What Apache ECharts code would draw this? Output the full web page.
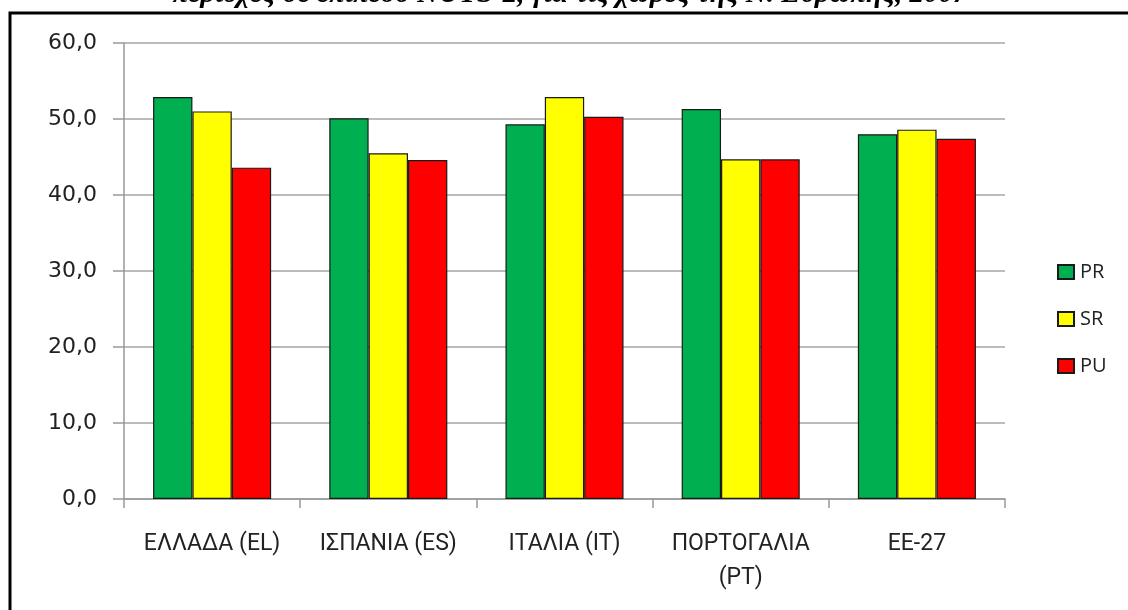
<!DOCTYPE html>
<html>
<head>
<meta charset="utf-8">
<script src="https://cdn.jsdelivr.net/npm/echarts@6/dist/echarts.min.js"></script>
<style>
  html, body { margin: 0; padding: 0; background: #fff; }
  #chart { width: 1128px; height: 610px; }
</style>
</head>
<body>
<div id="chart"></div>
<script>
// categories and series (% values)
const countries = ['ΕΛΛΑΔΑ (EL)', 'ΙΣΠΑΝΙΑ (ES)', 'ΙΤΑΛΙΑ (IT)', 'ΠΟΡΤΟΓΑΛΙΑ\n(PT)', 'ΕΕ-27']
const seriesNames = ['PR', 'SR', 'PU']
const prValues = [52.9, 50.1, 49.3, 51.3, 48.0]
const srValues = [51.0, 45.5, 52.9, 44.7, 48.6]
const puValues = [43.6, 44.6, 50.3, 44.7, 47.4]
const colors = ['#00b050', '#ffff00', '#ff0000']

const chart = echarts.init(document.getElementById('chart'))

const makeBar = (name, data, color) => ({
  name,
  type: 'bar',
  data,
  barGap: '0%',
  barCategoryGap: '33%',
  itemStyle: { color, borderColor: '#1a1a1a', borderWidth: 1.2 }
})

const option = {
  animation: false,
  backgroundColor: '#fff',
  graphic: [
    {
      type: 'rect',
      shape: { x: 10, y: 13, width: 1200, height: 700 },
      style: { fill: 'none', stroke: '#000', lineWidth: 3 },
      silent: true
    },
    {
      type: 'text',
      x: 570,
      y: 9,
      style: {
        text: 'περιοχές σε επίπεδο NUTS-2, για τις χώρες της Ν. Ευρώπης, 2007',
        font: 'italic bold 29px "Liberation Serif"',
        fill: '#000',
        textAlign: 'center',
        textVerticalAlign: 'bottom'
      },
      silent: true
    }
  ],
  legend: {
    data: seriesNames,
    orient: 'vertical',
    left: 1052,
    top: 257,
    itemWidth: 16,
    itemHeight: 14,
    itemGap: 27,
    icon: 'rect',
    textStyle: { fontFamily: 'Open Sans', fontSize: 20, color: '#222', padding: [0, 0, 0, 1] }
  },
  grid: {
    left: 124,
    top: 43,
    right: 123,
    bottom: 111,
    containLabel: false
  },
  xAxis: {
    type: 'category',
    data: countries,
    axisLine: { lineStyle: { color: '#999', width: 1.5 } },
    axisTick: { show: true, interval: 0, length: 9, lineStyle: { color: '#999', width: 1.5 } },
    axisLabel: {
      interval: 0,
      margin: 28,
      fontFamily: 'Roboto',
      fontSize: 23,
      color: '#222',
      lineHeight: 34
    }
  },
  yAxis: {
    type: 'value',
    min: 0,
    max: 60,
    interval: 10,
    axisLine: { show: true, lineStyle: { color: '#999', width: 1.5 } },
    axisTick: { show: true, length: 11, lineStyle: { color: '#999', width: 1.5 } },
    splitLine: { lineStyle: { color: '#a6a6a6', width: 1.5 } },
    axisLabel: {
      margin: 27,
      fontFamily: 'DejaVu Sans',
      fontSize: 22,
      color: '#222',
      formatter: v => v.toFixed(1).replace('.', ',')
    }
  },
  series: [
    makeBar(seriesNames[0], prValues, colors[0]),
    makeBar(seriesNames[1], srValues, colors[1]),
    makeBar(seriesNames[2], puValues, colors[2])
  ]
}

chart.setOption(option)
</script>
</body>
</html>
